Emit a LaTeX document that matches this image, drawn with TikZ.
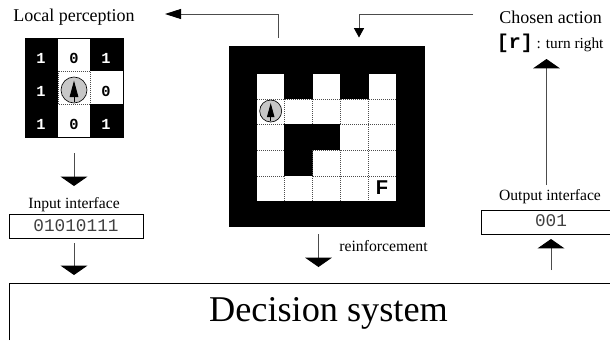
\documentclass[tikz,border=0pt]{standalone}
\usepackage{fontspec}
\setmainfont{Liberation Serif}
\setsansfont{Liberation Sans}
\setmonofont{Liberation Mono}
\usetikzlibrary{arrows.meta}
\tikzset{
  bigarrow/.style={-{Triangle[width=20pt,length=7pt,fill=black,color=black]},draw=black!70,line width=.7pt},
  wall/.style={fill=black,draw=none},
  gridline/.style={black!70,densely dotted,line width=.5pt},
  digit/.style={font=\ttfamily\bfseries\fontsize{11.5}{11.5}\selectfont,inner sep=0pt},
  label/.style={inner sep=0pt},
  code/.style={draw,line width=.6pt,text=black!75,font=\ttfamily\fontsize{13.3}{13.3}\selectfont,inner sep=0pt,minimum height=18pt}
}
\newcommand{\robot}[3]{% centre x, centre y, radius
  \draw[fill=black!22,line width=.5pt] (#1,#2) circle[radius=#3];
  \draw[-{Triangle[width=#3*.5pt,length=#3*.95pt]},line width=.7pt] (#1,#2+#3*.93) -- (#1,#2-#3*.72);
}
\begin{document}
\begin{tikzpicture}[x=.75pt,y=-.75pt]
\useasboundingbox (0,0) rectangle (610,340);

%% local perception
\node[label,font=\fontsize{13.5}{13.5}\selectfont] (perception) at (74,17) {Local perception};
\draw[wall] (25,38) rectangle (58,137);
\draw[wall] (90,38) rectangle (123,71);
\draw[wall] (90,104) rectangle (123,137);
\draw[line width=.6pt] (25,38) rectangle (123,137);
\draw[gridline] (58,71) rectangle (90,104);
\robot{74}{90}{13}
\node[digit,text=white] (c11) at (41,58) {1};
\node[digit] (c12) at (74,58) {0};
\node[digit,text=white] (c13) at (106,58) {1};
\node[digit,text=white] (c21) at (41,91) {1};
\node[digit] (c23) at (106,91) {0};
\node[digit,text=white] (c31) at (41,124) {1};
\node[digit] (c32) at (74,124) {0};
\node[digit,text=white] (c33) at (106,124) {1};

%% map
\draw[wall] (228.5,46) rectangle (425,227);
\fill[white] (257,73.5) rectangle (396,201);
\foreach \x/\y/\xx/\yy in {284/73.5/313/99, 340/73.5/369/99, 284/124/340/150, 284/150/313/176}
  \draw[wall] (\x,\y) rectangle (\xx,\yy);
% dotted cell borders
\draw[gridline] (257,99) -- (396,99);
\draw[gridline] (257,124.5) -- (284,124.5) (340,124.5) -- (396,124.5);
\draw[gridline] (257,150) -- (284,150) (313,150) -- (396,150);
\draw[gridline] (257,176) -- (284,176) (313,176) -- (396,176);
\draw[gridline] (284.7,99) -- (284.7,124) (284.7,176) -- (284.7,201);
\draw[gridline] (312.5,99) -- (312.5,124) (312.5,150) -- (312.5,201);
\draw[gridline] (340.3,99) -- (340.3,124) (340.3,150) -- (340.3,201);
\draw[gridline] (368.5,99) -- (368.5,201);
\robot{270.7}{111}{11}
\node[inner sep=0pt,font=\sffamily\bfseries\fontsize{15}{15}\selectfont] (finish) at (382,187.7) {F};

%% chosen action
\node[label,font=\fontsize{13.5}{13.5}\selectfont] (action) at (550.5,17) {Chosen action};
\node[label,anchor=west,font=\fontsize{11.5}{11.5}\selectfont] (turn) at (496.5,43) {{\ttfamily\bfseries\fontsize{15}{15}\selectfont [r]} : turn right};

%% interfaces
\node[label,font=\fontsize{11.7}{11.7}\selectfont] (inlabel) at (74,205) {Input interface};
\node[code,minimum width=100.5pt] (inbox) at (76,226) {01010111};
\node[label,font=\fontsize{11.7}{11.7}\selectfont] (outlabel) at (550,197) {Output interface};
\draw[line width=.6pt] (610,210) -| (481.5,234) -- (610,234);
\node[inner sep=0pt,text=black!75,font=\ttfamily\fontsize{13.3}{13.3}\selectfont] (outcode) at (551,221) {001};
\node[label,font=\fontsize{11.8}{11.8}\selectfont] (reinforce) at (383.5,246) {reinforcement};

%% decision system
\draw[line width=.7pt] (9,340) |- (610,283);
\node[label,font=\fontsize{27.2}{27.2}\selectfont] (decision) at (328.5,313) {Decision system};

%% connectors
\coordinate (mapout) at (278,38);
\coordinate (perctip) at (165,14);
\coordinate (actstart) at (473,14);
\coordinate (maptip) at (359,37.5);
\coordinate (ctlbase) at (546.5,185);
\coordinate (ctltip) at (546.5,59);
\coordinate (percbase) at (74,153);
\coordinate (perceptip) at (74,186);
\coordinate (inbase) at (74,243);
\coordinate (intip) at (74,275);
\coordinate (rfbase) at (318.5,234);
\coordinate (rftip) at (318.5,267);
\coordinate (outbase) at (551,270);
\coordinate (outtip) at (551,239);
\draw[bigarrow,-{Triangle[width=7.5pt,length=12pt,fill=black,color=black]}] (mapout) |- (perctip);
\draw[bigarrow,-{Triangle[width=7.5pt,length=7pt,fill=black,color=black]}] (actstart) -| (maptip);
\draw[bigarrow] (ctlbase) -- (ctltip);
\draw[bigarrow] (percbase) -- (perceptip);
\draw[bigarrow] (inbase) -- (intip);
\draw[bigarrow] (rfbase) -- (rftip);
\draw[bigarrow] (outbase) -- (outtip);
\end{tikzpicture}
\end{document}
